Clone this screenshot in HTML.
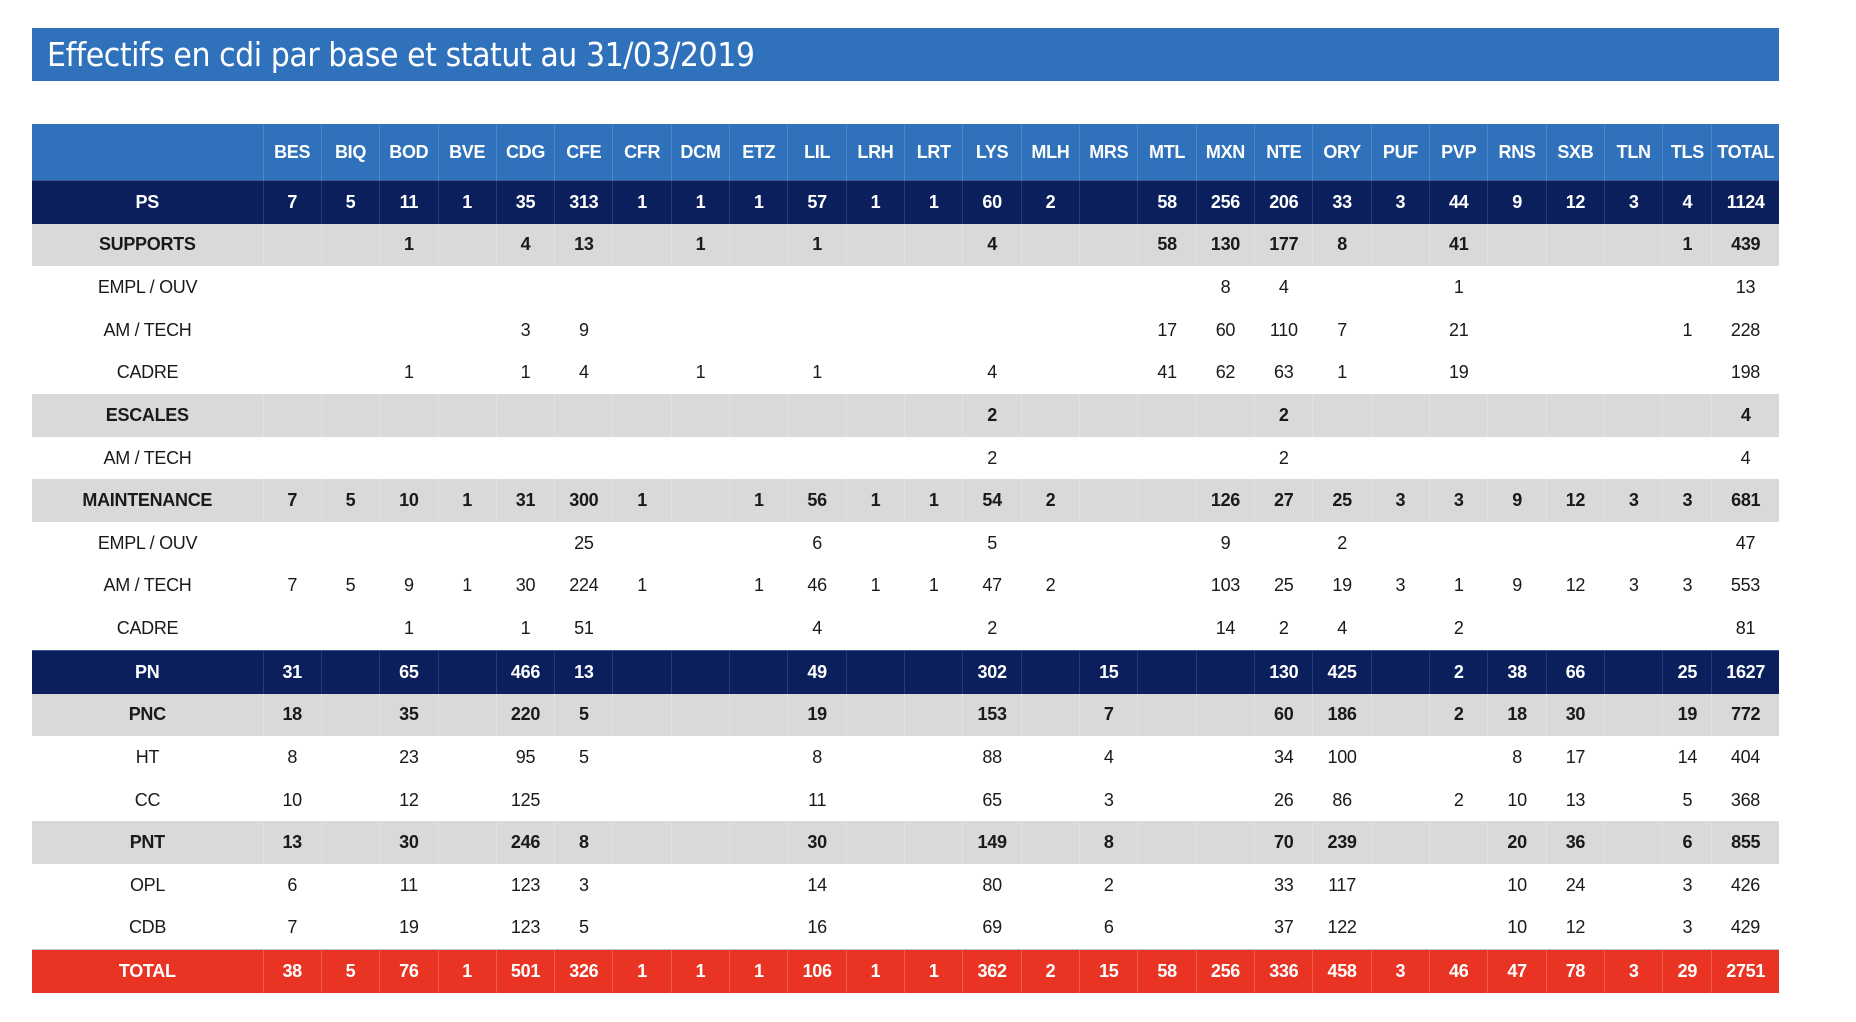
<!DOCTYPE html>
<html><head><meta charset="utf-8">
<style>
body{margin:0;background:#fff;width:1856px;height:1022px;overflow:hidden;font-family:"Liberation Sans",Arial,sans-serif;}
.title{position:absolute;left:32px;top:28px;width:1747px;height:53px;background:#2f71bb;color:#fff;font-size:33px;line-height:53px;box-sizing:border-box;padding-left:15px;font-family:"DejaVu Sans","Liberation Sans",sans-serif;font-weight:normal;letter-spacing:-0.5px;}
.title span{display:inline-block;transform:scaleX(0.91);transform-origin:left center;}
table{position:absolute;left:32px;top:124px;border-collapse:collapse;table-layout:fixed;width:1747px;}
td{padding:0;text-align:center;font-size:18px;color:#1a1a1a;height:42.63px;white-space:nowrap;letter-spacing:-0.3px;}
tr.h td{background:#2f71bb;color:#fff;font-weight:bold;height:56px;border-left:1px solid #4a86c8;}
tr.d td{background:#0a1f5c;color:#fff;font-weight:bold;border-left:1px solid #253a78;border-top:1px solid #3a5a9a;}
tr.g td{background:#d9d9d9;font-weight:bold;border-left:1px solid #e2e2e2;}
tr.r td{background:#e93323;color:#fff;font-weight:bold;border-left:1px solid #ef5a4c;border-top:1px solid #b9c0d8;}
tr td:first-child{border-left:none;}
</style></head><body>
<div class="title"><span>Effectifs en cdi par base et statut au 31/03/2019</span></div>
<table>
<colgroup><col style="width:231px">
<col style="width:58.33px"><col style="width:58.33px"><col style="width:58.33px"><col style="width:58.33px"><col style="width:58.33px"><col style="width:58.33px"><col style="width:58.33px"><col style="width:58.33px"><col style="width:58.33px"><col style="width:58.33px"><col style="width:58.33px"><col style="width:58.33px"><col style="width:58.33px"><col style="width:58.33px"><col style="width:58.33px"><col style="width:58.33px"><col style="width:58.33px"><col style="width:58.33px"><col style="width:58.33px"><col style="width:58.33px"><col style="width:58.33px"><col style="width:58.33px"><col style="width:58.33px"><col style="width:58.33px">
<col style="width:49px"><col style="width:67px"></colgroup>
<tr class="h"><td></td><td>BES</td><td>BIQ</td><td>BOD</td><td>BVE</td><td>CDG</td><td>CFE</td><td>CFR</td><td>DCM</td><td>ETZ</td><td>LIL</td><td>LRH</td><td>LRT</td><td>LYS</td><td>MLH</td><td>MRS</td><td>MTL</td><td>MXN</td><td>NTE</td><td>ORY</td><td>PUF</td><td>PVP</td><td>RNS</td><td>SXB</td><td>TLN</td><td>TLS</td><td>TOTAL</td></tr>
<tr class="d"><td>PS</td><td>7</td><td>5</td><td>11</td><td>1</td><td>35</td><td>313</td><td>1</td><td>1</td><td>1</td><td>57</td><td>1</td><td>1</td><td>60</td><td>2</td><td></td><td>58</td><td>256</td><td>206</td><td>33</td><td>3</td><td>44</td><td>9</td><td>12</td><td>3</td><td>4</td><td>1124</td></tr>
<tr class="g"><td>SUPPORTS</td><td></td><td></td><td>1</td><td></td><td>4</td><td>13</td><td></td><td>1</td><td></td><td>1</td><td></td><td></td><td>4</td><td></td><td></td><td>58</td><td>130</td><td>177</td><td>8</td><td></td><td>41</td><td></td><td></td><td></td><td>1</td><td>439</td></tr>
<tr><td>EMPL / OUV</td><td></td><td></td><td></td><td></td><td></td><td></td><td></td><td></td><td></td><td></td><td></td><td></td><td></td><td></td><td></td><td></td><td>8</td><td>4</td><td></td><td></td><td>1</td><td></td><td></td><td></td><td></td><td>13</td></tr>
<tr><td>AM / TECH</td><td></td><td></td><td></td><td></td><td>3</td><td>9</td><td></td><td></td><td></td><td></td><td></td><td></td><td></td><td></td><td></td><td>17</td><td>60</td><td>110</td><td>7</td><td></td><td>21</td><td></td><td></td><td></td><td>1</td><td>228</td></tr>
<tr><td>CADRE</td><td></td><td></td><td>1</td><td></td><td>1</td><td>4</td><td></td><td>1</td><td></td><td>1</td><td></td><td></td><td>4</td><td></td><td></td><td>41</td><td>62</td><td>63</td><td>1</td><td></td><td>19</td><td></td><td></td><td></td><td></td><td>198</td></tr>
<tr class="g"><td>ESCALES</td><td></td><td></td><td></td><td></td><td></td><td></td><td></td><td></td><td></td><td></td><td></td><td></td><td>2</td><td></td><td></td><td></td><td></td><td>2</td><td></td><td></td><td></td><td></td><td></td><td></td><td></td><td>4</td></tr>
<tr><td>AM / TECH</td><td></td><td></td><td></td><td></td><td></td><td></td><td></td><td></td><td></td><td></td><td></td><td></td><td>2</td><td></td><td></td><td></td><td></td><td>2</td><td></td><td></td><td></td><td></td><td></td><td></td><td></td><td>4</td></tr>
<tr class="g"><td>MAINTENANCE</td><td>7</td><td>5</td><td>10</td><td>1</td><td>31</td><td>300</td><td>1</td><td></td><td>1</td><td>56</td><td>1</td><td>1</td><td>54</td><td>2</td><td></td><td></td><td>126</td><td>27</td><td>25</td><td>3</td><td>3</td><td>9</td><td>12</td><td>3</td><td>3</td><td>681</td></tr>
<tr><td>EMPL / OUV</td><td></td><td></td><td></td><td></td><td></td><td>25</td><td></td><td></td><td></td><td>6</td><td></td><td></td><td>5</td><td></td><td></td><td></td><td>9</td><td></td><td>2</td><td></td><td></td><td></td><td></td><td></td><td></td><td>47</td></tr>
<tr><td>AM / TECH</td><td>7</td><td>5</td><td>9</td><td>1</td><td>30</td><td>224</td><td>1</td><td></td><td>1</td><td>46</td><td>1</td><td>1</td><td>47</td><td>2</td><td></td><td></td><td>103</td><td>25</td><td>19</td><td>3</td><td>1</td><td>9</td><td>12</td><td>3</td><td>3</td><td>553</td></tr>
<tr><td>CADRE</td><td></td><td></td><td>1</td><td></td><td>1</td><td>51</td><td></td><td></td><td></td><td>4</td><td></td><td></td><td>2</td><td></td><td></td><td></td><td>14</td><td>2</td><td>4</td><td></td><td>2</td><td></td><td></td><td></td><td></td><td>81</td></tr>
<tr class="d"><td>PN</td><td>31</td><td></td><td>65</td><td></td><td>466</td><td>13</td><td></td><td></td><td></td><td>49</td><td></td><td></td><td>302</td><td></td><td>15</td><td></td><td></td><td>130</td><td>425</td><td></td><td>2</td><td>38</td><td>66</td><td></td><td>25</td><td>1627</td></tr>
<tr class="g"><td>PNC</td><td>18</td><td></td><td>35</td><td></td><td>220</td><td>5</td><td></td><td></td><td></td><td>19</td><td></td><td></td><td>153</td><td></td><td>7</td><td></td><td></td><td>60</td><td>186</td><td></td><td>2</td><td>18</td><td>30</td><td></td><td>19</td><td>772</td></tr>
<tr><td>HT</td><td>8</td><td></td><td>23</td><td></td><td>95</td><td>5</td><td></td><td></td><td></td><td>8</td><td></td><td></td><td>88</td><td></td><td>4</td><td></td><td></td><td>34</td><td>100</td><td></td><td></td><td>8</td><td>17</td><td></td><td>14</td><td>404</td></tr>
<tr><td>CC</td><td>10</td><td></td><td>12</td><td></td><td>125</td><td></td><td></td><td></td><td></td><td>11</td><td></td><td></td><td>65</td><td></td><td>3</td><td></td><td></td><td>26</td><td>86</td><td></td><td>2</td><td>10</td><td>13</td><td></td><td>5</td><td>368</td></tr>
<tr class="g"><td>PNT</td><td>13</td><td></td><td>30</td><td></td><td>246</td><td>8</td><td></td><td></td><td></td><td>30</td><td></td><td></td><td>149</td><td></td><td>8</td><td></td><td></td><td>70</td><td>239</td><td></td><td></td><td>20</td><td>36</td><td></td><td>6</td><td>855</td></tr>
<tr><td>OPL</td><td>6</td><td></td><td>11</td><td></td><td>123</td><td>3</td><td></td><td></td><td></td><td>14</td><td></td><td></td><td>80</td><td></td><td>2</td><td></td><td></td><td>33</td><td>117</td><td></td><td></td><td>10</td><td>24</td><td></td><td>3</td><td>426</td></tr>
<tr><td>CDB</td><td>7</td><td></td><td>19</td><td></td><td>123</td><td>5</td><td></td><td></td><td></td><td>16</td><td></td><td></td><td>69</td><td></td><td>6</td><td></td><td></td><td>37</td><td>122</td><td></td><td></td><td>10</td><td>12</td><td></td><td>3</td><td>429</td></tr>
<tr class="r"><td>TOTAL</td><td>38</td><td>5</td><td>76</td><td>1</td><td>501</td><td>326</td><td>1</td><td>1</td><td>1</td><td>106</td><td>1</td><td>1</td><td>362</td><td>2</td><td>15</td><td>58</td><td>256</td><td>336</td><td>458</td><td>3</td><td>46</td><td>47</td><td>78</td><td>3</td><td>29</td><td>2751</td></tr>
</table>
</body></html>
